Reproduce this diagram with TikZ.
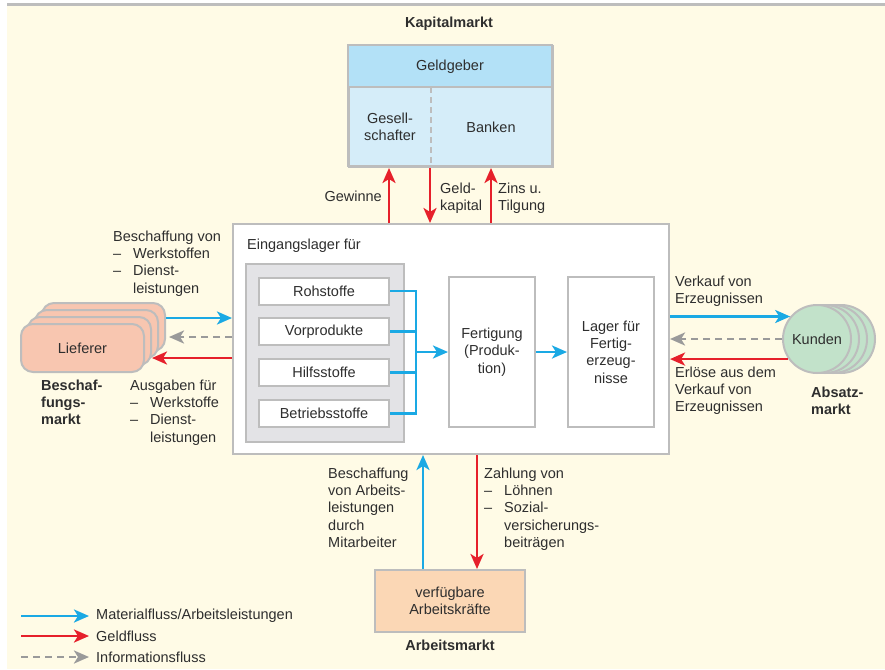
\documentclass[tikz,border=0pt]{standalone}
\usepackage{fontspec}
\setmainfont{Liberation Sans}
\usetikzlibrary{arrows.meta}
\definecolor{cream}{HTML}{FFFBE6}
\definecolor{bord}{HTML}{BDBDBD}
\definecolor{mblue}{HTML}{1AA9E4}
\definecolor{mred}{HTML}{E6202B}
\definecolor{igray}{HTML}{9A9A9A}
\definecolor{txt}{HTML}{2E2E2E}
\definecolor{tblue}{HTML}{B3E1F7}
\definecolor{lblue}{HTML}{D5EDF9}
\definecolor{ingray}{HTML}{E3E3E6}
\definecolor{salmon}{HTML}{F8C6B0}
\definecolor{kgreen}{HTML}{C2E2CA}
\definecolor{peach}{HTML}{FBD7B5}
\newcommand{\dd}{\makebox[20pt][l]{--}}
\newcommand{\ii}{\hspace*{20pt}}
\begin{document}
\begin{tikzpicture}[x=1pt,y=-1pt,
  font=\fontsize{14.5}{17.3}\selectfont, text=txt,
  box/.style={draw=bord, line width=2pt, inner sep=0pt},
  lbl/.style={anchor=north west, inner sep=0pt, align=left},
  bld/.style={font=\fontsize{14.5}{17.3}\selectfont\bfseries},
  tip/.style={-{Stealth[length=15pt,width=13pt,inset=4pt]}},
  barrow/.style={draw=mblue, line width=2.8pt, tip},
  rarrow/.style={draw=mred, line width=2.8pt, tip},
  garrow/.style={draw=igray, line width=2.8pt, dash pattern=on 7pt off 5pt, tip},
  bline/.style={draw=mblue, line width=2.8pt}]
\useasboundingbox (0,0) rectangle (885,669);
\fill[white] (0,0) rectangle (885,669);
\fill[cream] (7,6) rectangle (885,669);
\fill[bord] (7,3.5) rectangle (885,6);

% Kapitalmarkt
\node[bld, inner sep=0pt] (kaplbl) at (449,24) {Kapitalmarkt};
\node[box, fill=lblue, minimum width=204pt, minimum height=121pt, anchor=north west] (kap) at (348,45) {};
\fill[tblue] (348,45) rectangle (552,87);
\draw[bord, line width=2pt] (348,45) rectangle (552,166);
\draw[bord, line width=2pt] (348,87) -- (552,87);
\draw[bord, line width=2pt, dash pattern=on 6pt off 4pt] (431,87) -- (431,166);
\node (geldgeber) at (450,67) {Geldgeber};
\node[align=center, inner sep=0pt] (gesell) at (390,127) {Gesell-\\schafter};
\node (banken) at (491,127) {Banken};

% main box
\node[box, fill=white, minimum width=436pt, minimum height=230pt, anchor=north west] (main) at (232,223) {};
\node[lbl] (eing) at (247,238.5) {Eingangslager für};
\node[box, fill=ingray, minimum width=158pt, minimum height=178pt, anchor=north west] (inner) at (245,263) {};
\tikzset{sbox/.style={box, fill=white, minimum width=130pt, minimum height=27pt}}
\node[sbox] (roh) at (324,291) {Rohstoffe};
\node[sbox] (vor) at (324,331.5) {Vorprodukte};
\node[sbox] (hil) at (324,372.5) {Hilfsstoffe};
\node[sbox] (bet) at (324,413.5) {Betriebsstoffe};
\node[box, fill=white, minimum width=86pt, minimum height=150pt, align=center] (fert) at (492,352) {Fertigung\\(Produk-\\tion)};
\node[box, fill=white, minimum width=86pt, minimum height=150pt, align=center] (lager) at (611,352) {Lager für\\Fertig-\\erzeug-\\nisse};
\coordinate (jx) at (416,352);
\draw[bline] (roh.east) -| (jx);
\draw[bline] (vor.east) -| (jx);
\draw[bline] (hil.east) -| (jx);
\draw[bline] (bet.east) -| (jx);
\draw[barrow] (jx) -- (fert.west);
\draw[barrow] (fert.east) -- (lager.west);

% top arrows
\coordinate (gx) at (389,0);
\coordinate (kx) at (430,0);
\coordinate (zx) at (491,0);
\draw[rarrow] (main.north -| gx) -- (kap.south -| gx);
\draw[rarrow] (kap.south -| kx) -- (main.north -| kx);
\draw[rarrow] (main.north -| zx) -- (kap.south -| zx);
\node[anchor=east, inner sep=0pt] (gewinne) at (382,196) {Gewinne};
\node[lbl] (geldk) at (440,182.5) {Geld-\\kapital};
\node[lbl] (zins) at (498,182.5) {Zins u.\\Tilgung};

% Lieferer
\tikzset{lf/.style={box, fill=salmon, rounded corners=12pt, minimum width=123pt, minimum height=48pt}}
\node[lf] (lief3) at (103.5,327) {};
\node[lf] (lief2) at (96.5,334) {};
\node[lf] (lief1) at (89.5,341) {};
\node[lf] (lief) at (82.5,348) {Lieferer};
\coordinate (y1) at (0,318);
\coordinate (y2) at (0,337);
\coordinate (y3) at (0,358);
\draw[barrow] (lief3.east |- y1) -- (main.west |- y1);
\draw[garrow] (main.west |- y2) -- ([xshift=3pt]lief3.east |- y2);
\draw[rarrow] (main.west |- y3) -- (lief1.east |- y3);
\node[lbl] (besch) at (113,230.5) {Beschaffung von\\\dd Werkstoffen\\\dd Dienst-\\\ii leistungen};
\node[lbl, bld] (bmarkt) at (41,379.5) {Beschaf-\\fungs-\\markt};
\node[lbl] (ausg) at (130,379.5) {Ausgaben für\\\dd Werkstoffe\\\dd Dienst-\\\ii leistungen};

% Kunden
\tikzset{kc/.style={box, fill=kgreen, circle, minimum size=68pt}}
\node[kc] (kun3) at (841,339) {};
\node[kc] (kun2) at (833,339) {};
\node[kc] (kun1) at (825,339) {};
\node[kc] (kun) at (817,339) {Kunden};
\draw[barrow] (main.east |- kun.140) -- (kun.140);
\draw[garrow] (kun.west) -- (main.east |- kun.west);
\draw[rarrow] (kun.215) -- (main.east |- kun.215);
\node[lbl] (verk) at (675,275.5) {Verkauf von\\Erzeugnissen};
\node[lbl] (erl) at (675,366.5) {Erlöse aus dem\\Verkauf von\\Erzeugnissen};
\node[lbl, bld] (amarkt) at (811,386.5) {Absatz-\\markt};

% Arbeitsmarkt
\node[box, fill=peach, minimum width=150pt, minimum height=62pt, align=center] (ark) at (450,601) {verfügbare\\Arbeitskräfte};
\node[bld, inner sep=0pt] (arbm) at (450,645) {Arbeitsmarkt};
\coordinate (bx) at (423,0);
\coordinate (rx) at (477,0);
\draw[barrow] (ark.north -| bx) -- (main.south -| bx);
\draw[rarrow] (main.south -| rx) -- (ark.north -| rx);
\node[lbl] (bal) at (328,467.5) {Beschaffung\\von Arbeits-\\leistungen\\durch\\Mitarbeiter};
\node[lbl] (zahl) at (484,467.5) {Zahlung von\\\dd Löhnen\\\dd Sozial-\\\ii versicherungs-\\\ii beiträgen};

% legend
\coordinate (l1a) at (21,616); \coordinate (l1b) at (89,616);
\coordinate (l2a) at (21,636); \coordinate (l2b) at (89,636);
\coordinate (l3a) at (21,657); \coordinate (l3b) at (89,657);
\draw[barrow] (l1a) -- (l1b);
\draw[rarrow] (l2a) -- (l2b);
\draw[garrow] (l3a) -- (l3b);
\node[anchor=west, inner sep=0pt] (leg1) at (96,616) {Materialfluss/Arbeitsleistungen};
\node[anchor=west, inner sep=0pt] (leg2) at (96,636) {Geldfluss};
\node[anchor=west, inner sep=0pt] (leg3) at (96,657) {Informationsfluss};
\end{tikzpicture}
\end{document}
